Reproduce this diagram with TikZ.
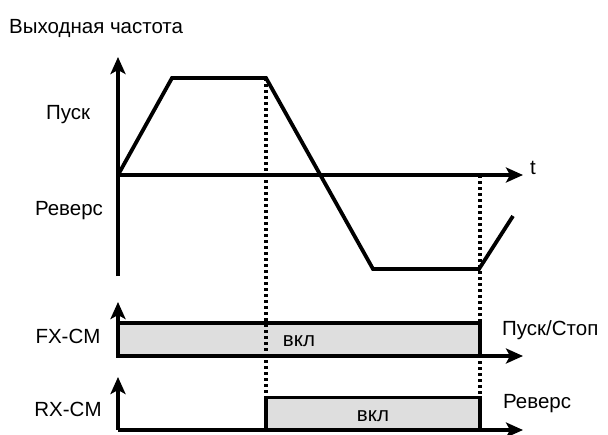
\documentclass[tikz,border=0pt]{standalone}
\usepackage{fontspec}
\setmainfont{Liberation Sans}
\usetikzlibrary{arrows.meta}
\begin{document}
\begin{tikzpicture}[x=1pt,y=-1pt,
  every node/.style={inner sep=0pt, font=\fontsize{20.5}{23}\selectfont},
  thick line/.style={line width=3.8pt},
  axisarrow/.style={line width=3.6pt,-{Stealth[length=17pt,width=15pt,inset=4pt]}},
  dots/.style={line width=3.2pt,dash pattern=on 3.2pt off 2.8pt},
  onbox/.style={draw=black,line width=3.6pt,fill=black!13,minimum width=#1,minimum height=33pt}
]
\useasboundingbox (0,0) rectangle (608,434);
% labels
\node[anchor=west] (title) at (9,28) {Выходная частота};
\node (pusk) at (68,115) {Пуск};
\node (revL) at (69,211) {Реверс};
\node (t) at (533,168) {t};
\node (fx) at (68,336) {FX-CM};
\node (rx) at (68,409) {RX-CM};
\node[anchor=west] (puskstop) at (502,330) {Пуск/Стоп};
\node[anchor=west] (revR) at (503,404) {Реверс};
% signal boxes
\node[onbox=362pt] (fxbox) at (299,339.5) {};
\node (fxon) at (299,341) {вкл};
\node[onbox=214pt] (rxbox) at (373,414) {};
\node (rxon) at (373,416) {вкл};
% coordinates
\coordinate (o) at (118,175);
\coordinate (ytop) at (118,57);
\coordinate (ybot) at (118,276);
\coordinate (tend) at (523,175);
\coordinate (p1) at (172,78);
\coordinate (p2) at (266,78);
\coordinate (p3) at (373,269);
\coordinate (p4) at (479,269);
\coordinate (p5) at (513,216);
\coordinate (fxo) at (118,356);
\coordinate (fxtop) at (118,302);
\coordinate (fxend) at (523,356);
\coordinate (rxo) at (118,430);
\coordinate (rxtop) at (118,377);
\coordinate (rxend) at (523,430);
\coordinate (d1b) at (266,398);
\coordinate (d2t) at (480,175);
\coordinate (d2b) at (480,398);
% dotted markers
\draw[dots] (p2) -- (d1b);
\draw[dots] (d2t) -- (d2b);
% axes
\draw[axisarrow] (ybot) -- (ytop);
\draw[axisarrow] (o) -- (tend);
\draw[axisarrow] (fxo) -- (fxtop);
\draw[axisarrow] (fxo) -- (fxend);
\draw[axisarrow] (rxo) -- (rxtop);
\draw[axisarrow] (rxo) -- (rxend);
% waveform
\draw[thick line,line join=miter] (o) -- (p1) -- (p2) -- (p3) -- (p4) -- (p5);
\end{tikzpicture}
\end{document}
